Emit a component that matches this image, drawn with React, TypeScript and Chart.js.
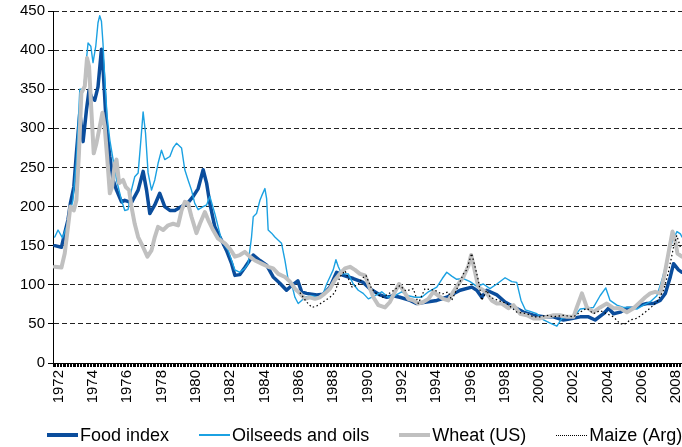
import React, { useEffect, useRef } from "react";
import { Chart, registerables } from "chart.js";

Chart.register(...registerables);

// ---------- data ----------
const SERIES_NAMES = ["Food index", "Oilseeds and oils", "Wheat (US)", "Maize (Arg)"];
const Y_TICKS = [0, 50, 100, 150, 200, 250, 300, 350, 400, 450];
const X_TICK_YEARS = [1972, 1974, 1976, 1978, 1980, 1982, 1984, 1986, 1988, 1990, 1992, 1994, 1996, 1998, 2000, 2002, 2004, 2006, 2008];

const foodYears = [1971.77, 1972.16, 1972.35, 1972.54, 1972.68, 1972.88, 1973.03, 1973.23, 1973.42, 1973.62, 1973.77, 1973.91, 1974.1, 1974.29, 1974.49, 1974.58, 1974.78, 1974.98, 1975.17, 1975.37, 1975.66, 1975.85, 1976.24, 1976.63, 1976.92, 1977.12, 1977.31, 1977.6, 1977.89, 1978.18, 1978.48, 1978.77, 1979.16, 1979.54, 1979.84, 1980.13, 1980.42, 1980.62, 1980.81, 1981.1, 1981.49, 1981.78, 1982.08, 1982.27, 1982.56, 1982.85, 1983.34, 1983.73, 1984.12, 1984.5, 1984.89, 1985.28, 1985.58, 1985.94, 1986.16, 1986.45, 1987.04, 1987.42, 1987.81, 1988.2, 1988.59, 1989.17, 1989.75, 1990.14, 1990.73, 1991.12, 1991.5, 1991.89, 1992.48, 1992.87, 1993.45, 1994.04, 1994.62, 1995.4, 1996.08, 1996.37, 1996.66, 1996.95, 1997.54, 1998.02, 1998.51, 1999.09, 1999.67, 2000.26, 2000.84, 2001.42, 2001.91, 2002.4, 2002.88, 2003.27, 2003.76, 2004.05, 2004.34, 2004.73, 2005.12, 2005.51, 2005.9, 2006.29, 2006.67, 2007.06, 2007.36, 2007.65, 2007.84, 2008.13, 2008.33];
const foodValues = [150, 148, 166, 183, 204, 225, 268, 320, 283, 324, 349, 340, 336, 353, 401, 379, 302, 264, 234, 221, 206, 208, 205, 221, 245, 221, 191, 202, 217, 200, 195, 195, 200, 205, 213, 223, 247, 230, 204, 174, 157, 144, 127, 112, 113, 122, 138, 131, 125, 110, 102, 93, 99, 105, 91, 89, 87, 88, 97, 116, 112, 108, 103, 95, 87, 84, 86, 84, 80, 76, 78, 80, 84, 93, 97, 93, 84, 93, 87, 78, 72, 65, 61, 59, 59, 55, 57, 59, 59, 55, 63, 70, 63, 65, 70, 70, 74, 76, 76, 80, 89, 110, 127, 119, 116];

const oilYears = [1971.77, 1971.96, 1972.22, 1972.45, 1972.64, 1972.83, 1973.03, 1973.23, 1973.46, 1973.58, 1973.71, 1973.87, 1974.0, 1974.16, 1974.29, 1974.39, 1974.49, 1974.58, 1974.68, 1974.82, 1974.98, 1975.17, 1975.37, 1975.56, 1975.66, 1975.85, 1976.04, 1976.24, 1976.43, 1976.63, 1976.79, 1976.92, 1977.06, 1977.21, 1977.41, 1977.6, 1977.79, 1977.99, 1978.18, 1978.48, 1978.67, 1978.87, 1979.16, 1979.35, 1979.54, 1979.74, 1979.93, 1980.13, 1980.42, 1980.62, 1980.81, 1981.1, 1981.49, 1981.88, 1982.27, 1982.56, 1982.85, 1983.04, 1983.24, 1983.34, 1983.53, 1983.73, 1983.82, 1984.02, 1984.12, 1984.21, 1984.41, 1984.6, 1984.8, 1984.99, 1985.19, 1985.38, 1985.58, 1985.77, 1985.96, 1986.16, 1986.35, 1986.74, 1987.13, 1987.42, 1987.62, 1987.81, 1988.0, 1988.16, 1988.3, 1988.49, 1988.88, 1989.17, 1989.46, 1989.75, 1990.05, 1990.44, 1990.83, 1991.21, 1991.6, 1991.99, 1992.38, 1992.77, 1993.16, 1993.55, 1994.04, 1994.36, 1994.62, 1994.91, 1995.2, 1995.59, 1995.98, 1996.37, 1996.75, 1997.14, 1997.54, 1998.02, 1998.41, 1998.7, 1998.95, 1999.2, 1999.48, 1999.87, 2000.26, 2000.65, 2001.04, 2001.33, 2001.71, 2002.1, 2002.4, 2002.79, 2003.17, 2003.56, 2003.89, 2004.14, 2004.54, 2004.92, 2005.31, 2005.7, 2006.08, 2006.47, 2006.87, 2007.16, 2007.46, 2007.75, 2008.04, 2008.24, 2008.33];
const oilValues = [161, 170, 160, 174, 191, 208, 259, 350, 350, 380, 409, 405, 384, 405, 435, 444, 437, 409, 366, 315, 285, 260, 234, 217, 208, 195, 196, 221, 238, 243, 285, 321, 294, 243, 221, 234, 255, 272, 260, 264, 275, 281, 275, 247, 234, 221, 204, 196, 200, 202, 213, 191, 157, 144, 119, 116, 121, 127, 161, 187, 191, 208, 213, 223, 210, 170, 166, 161, 157, 153, 131, 106, 101, 84, 76, 80, 84, 86, 84, 89, 101, 110, 119, 132, 123, 114, 114, 101, 93, 89, 82, 86, 91, 84, 86, 91, 86, 84, 84, 91, 97, 108, 116, 111, 107, 108, 104, 98, 101, 95, 101, 109, 104, 103, 80, 68, 66, 63, 55, 51, 47, 57, 59, 61, 69, 70, 71, 86, 96, 80, 74, 71, 71, 69, 74, 78, 86, 106, 131, 155, 168, 165, 161];

const wheatYears = [1971.77, 1972.16, 1972.35, 1972.54, 1972.68, 1972.88, 1973.03, 1973.18, 1973.32, 1973.52, 1973.65, 1973.77, 1973.91, 1974.04, 1974.2, 1974.39, 1974.55, 1974.68, 1974.82, 1974.98, 1975.11, 1975.27, 1975.37, 1975.52, 1975.75, 1975.91, 1976.1, 1976.24, 1976.43, 1976.63, 1976.92, 1977.17, 1977.41, 1977.6, 1977.79, 1978.09, 1978.38, 1978.67, 1978.96, 1979.16, 1979.35, 1979.54, 1979.74, 1980.03, 1980.23, 1980.52, 1980.71, 1981.0, 1981.29, 1981.69, 1981.98, 1982.27, 1982.56, 1982.85, 1983.14, 1983.44, 1983.83, 1984.21, 1984.5, 1984.8, 1985.19, 1985.48, 1985.77, 1986.06, 1986.35, 1986.64, 1986.94, 1987.23, 1987.52, 1987.81, 1988.1, 1988.39, 1988.69, 1988.98, 1989.27, 1989.56, 1989.85, 1990.05, 1990.34, 1990.63, 1991.02, 1991.31, 1991.6, 1991.84, 1992.09, 1992.38, 1992.67, 1992.96, 1993.25, 1993.55, 1993.84, 1994.13, 1994.42, 1994.71, 1995.0, 1995.3, 1995.59, 1995.88, 1996.04, 1996.23, 1996.46, 1996.75, 1996.95, 1997.24, 1997.54, 1997.83, 1998.21, 1998.51, 1998.9, 1999.29, 1999.67, 2000.06, 2000.45, 2000.84, 2001.23, 2001.62, 2002.01, 2002.2, 2002.5, 2002.79, 2003.17, 2003.56, 2003.95, 2004.34, 2004.73, 2005.12, 2005.51, 2005.9, 2006.19, 2006.48, 2006.77, 2007.06, 2007.29, 2007.54, 2007.78, 2007.93, 2008.07, 2008.33];
const wheatValues = [123, 122, 140, 174, 200, 195, 208, 268, 345, 354, 390, 379, 320, 268, 281, 302, 320, 302, 264, 217, 225, 255, 260, 230, 234, 225, 221, 200, 178, 161, 148, 136, 144, 161, 174, 170, 176, 178, 176, 195, 206, 204, 187, 166, 178, 193, 183, 170, 159, 153, 146, 136, 138, 142, 136, 131, 127, 123, 121, 114, 110, 104, 95, 89, 82, 84, 82, 84, 89, 95, 106, 114, 121, 123, 119, 114, 112, 101, 84, 74, 71, 78, 91, 101, 93, 82, 80, 76, 78, 82, 91, 86, 82, 80, 91, 101, 110, 124, 138, 120, 97, 93, 89, 80, 76, 76, 70, 74, 63, 61, 57, 57, 59, 61, 61, 59, 59, 71, 89, 71, 65, 71, 76, 70, 70, 65, 70, 78, 84, 89, 91, 89, 110, 140, 168, 157, 140, 136];

const maizeYears = [1986.06, 1986.45, 1986.76, 1987.04, 1987.4, 1987.81, 1988.1, 1988.39, 1988.69, 1989.1, 1989.44, 1989.68, 1989.91, 1990.24, 1990.55, 1990.9, 1991.41, 1991.89, 1992.24, 1992.67, 1992.96, 1993.35, 1993.93, 1994.34, 1994.71, 1994.91, 1995.3, 1995.59, 1995.78, 1996.07, 1996.27, 1996.46, 1996.66, 1996.95, 1997.15, 1997.63, 1998.12, 1998.7, 1999.29, 1999.67, 2000.06, 2000.45, 2000.84, 2001.42, 2002.01, 2002.4, 2002.79, 2003.17, 2003.56, 2003.95, 2004.34, 2004.73, 2005.02, 2005.31, 2005.7, 2006.08, 2006.47, 2006.87, 2007.26, 2007.54, 2007.84, 2008.03, 2008.24];
const maizeValues = [90, 78, 71, 73, 78, 84, 90, 110, 118, 97, 100, 108, 112, 95, 88, 84, 91, 99, 92, 95, 76, 95, 93, 88, 91, 80, 99, 114, 119, 140, 123, 106, 80, 93, 84, 80, 76, 65, 63, 59, 59, 61, 59, 61, 59, 65, 70, 63, 67, 63, 59, 50, 50, 55, 57, 63, 70, 78, 93, 116, 148, 163, 148];

// ---------- styles ----------
const COLORS = ["#0b4d9c", "#1ba1e2", "#c0c0c0", "#000000"];
const WIDTHS = [3.5, 1.4, 4, 1.2];
const LEGEND_WIDTHS = [4, 2, 4, 1.5];
const FONT = "'Liberation Sans', Arial, Helvetica, sans-serif";

const toMonth = (yr: number) => Math.round((yr - 1972) * 12 * 100) / 100;
const pts = (ys: number[], vs: number[]) => ys.map((y, i) => ({ x: toMonth(y), y: vs[i] }));

export default function App() {
  const ref = useRef<HTMLCanvasElement | null>(null);

  useEffect(() => {
    if (!ref.current) return;
    const seriesData = [
      pts(foodYears, foodValues),
      pts(oilYears, oilValues),
      pts(wheatYears, wheatValues),
      pts(maizeYears, maizeValues),
    ];
    const chart = new Chart(ref.current, {
      type: "line",
      data: {
        datasets: SERIES_NAMES.map((name, i) => ({
          label: name,
          data: seriesData[i],
          borderColor: COLORS[i],
          backgroundColor: COLORS[i],
          borderWidth: WIDTHS[i],
          borderDash: i === 3 ? [1.5, 2.5] : [],
          borderJoinStyle: "round" as const,
          borderCapStyle: i === 3 ? ("butt" as const) : ("round" as const),
          pointRadius: 0,
          tension: 0,
          fill: false,
          order: 4 - i,
        })),
      },
      options: {
        animation: false,
        responsive: true,
        maintainAspectRatio: false,
        events: [],
        layout: { padding: { top: 11, right: 0, bottom: 0, left: 0 } },
        plugins: { legend: { display: false }, tooltip: { enabled: false } },
        scales: {
          x: {
            type: "linear",
            min: -4,
            max: 436,
            afterFit: (s: any) => {
              s.height = 84;
              s.paddingLeft = 0;
              s.paddingRight = 0;
            },
            border: { display: true, color: "#000", width: 1 },
            grid: {
              display: true,
              drawOnChartArea: false,
              drawTicks: true,
              tickLength: 4,
              tickColor: "#000",
              tickWidth: 1,
              tickBorderDash: [],
            },
            ticks: {
              stepSize: 1,
              autoSkip: false,
              includeBounds: false,
              maxRotation: 90,
              minRotation: 90,
              padding: 3,
              color: "#000",
              font: { family: FONT, size: 15 },
              callback: (value: any) => {
                const v = Number(value);
                const r = Math.round(v);
                if (Math.abs(v - r) > 1e-6 || r % 12 !== 0) return "";
                const yr = 1972 + r / 12;
                return X_TICK_YEARS.includes(yr) ? String(yr) : "";
              },
            },
          },
          y: {
            type: "linear",
            min: 0,
            max: 450,
            afterFit: (s: any) => {
              s.width = 53;
              s.paddingTop = 0;
              s.paddingBottom = 0;
            },
            border: { display: true, color: "#000", width: 1, dash: [5, 3] },
            grid: {
              color: "#222",
              lineWidth: 1,
              drawTicks: true,
              tickLength: 5,
              tickColor: "#000",
              tickBorderDash: [],
            },
            afterBuildTicks: (s: any) => {
              s.ticks = Y_TICKS.map((v) => ({ value: v }));
            },
            ticks: {
              padding: 3,
              color: "#000",
              font: { family: FONT, size: 15 },
            },
          },
        },
      },
    });
    return () => chart.destroy();
  }, []);

  return (
    <div style={{ position: "absolute", left: 0, top: 0, width: 682, height: 447, background: "#fff", overflow: "hidden" }}>
      <div style={{ position: "absolute", left: 0, top: 0, width: 682, height: 447 }}>
        <canvas ref={ref} />
      </div>
      <div
        style={{
          position: "absolute",
          left: 47,
          top: 424,
          display: "flex",
          alignItems: "center",
          whiteSpace: "nowrap",
          fontFamily: FONT,
          fontSize: 18,
          color: "#000",
          lineHeight: "22px",
        }}
      >
        {SERIES_NAMES.map((name, i) => (
          <div key={name} style={{ display: "flex", alignItems: "center", marginRight: i < 3 ? 30 : 0 }}>
            <div
              style={{
                width: 31,
                height: 0,
                borderTop: i === 3 ? `${LEGEND_WIDTHS[i]}px dotted #000` : `${LEGEND_WIDTHS[i]}px solid ${COLORS[i]}`,
                marginRight: 2,
              }}
            />
            <span>{name}</span>
          </div>
        ))}
      </div>
    </div>
  );
}
